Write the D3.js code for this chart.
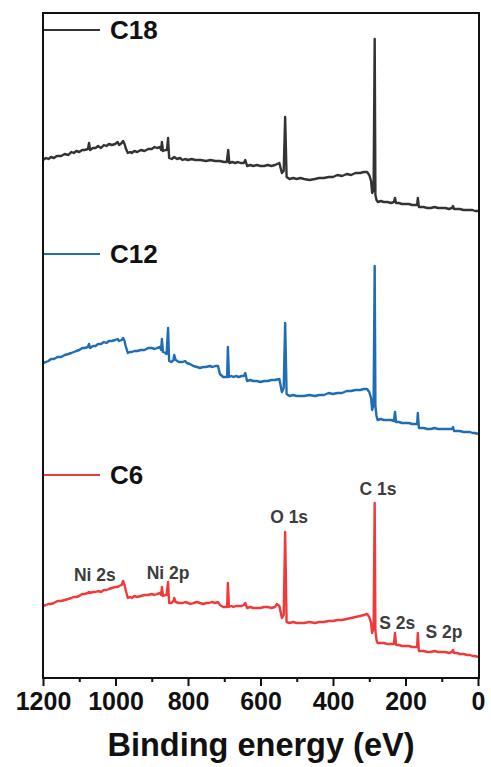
<!DOCTYPE html>
<html>
<head>
<meta charset="utf-8">
<script src="https://cdn.jsdelivr.net/npm/d3@7"></script>
<style>
  html, body { margin: 0; padding: 0; background: #fff; }
  svg { display: block; }
</style>
</head>
<body>
<script>
// XPS survey spectra of three samples, stacked vertically (intensity in a.u.)
const seriesNames = ["C18", "C12", "C6"];
const seriesColors = ["#333333", "#1f6db3", "#f03a3a"];

// binding energy (eV), intensity (a.u.)
const c18 = [
  [1200,518],[1192,520],[1185,519],[1178,521],[1170,520],[1162,522],[1150,522],[1140,524],[1130,523],[1122,526],
  [1115,525],[1108,527],[1100,526],[1092,528],[1085,528],[1076,529],[1073,535],[1070,528],[1062,530],[1055,530],
  [1048,532],[1040,530],[1032,533],[1025,532],[1018,534],[1010,533],[1001,534],[994,536],[990,533],[983,535],
  [979,537],[975,534],[972,530],[966,525],[960,526],[955,525],[948,527],[940,526],[930,528],[920,527],[910,529],
  [900,529],[892,531],[885,530],[877,531],[874,528],[872,536],[869,527],[862,528],[858,528],[855,540],[852,520],
  [845,519],[838,521],[830,519],[822,520],[815,518],[808,519],[800,518],[790,519],[780,518],[765,518],[750,517],
  [738,518],[725,517],[712,517],[700,516],[693,516],[689,528],[686,515],[678,516],[670,515],[662,516],[655,515],
  [646,515],[642,518],[637,512],[628,513],[620,512],[610,513],[600,512],[590,512],[580,513],[570,512],[560,513],
  [548,515],[541,505],[536,507],[532,561],[528,501],[520,499],[510,500],[500,499],[490,500],[480,499],[465,498],
  [450,499],[438,500],[425,500],[412,501],[400,501],[388,503],[375,502],[362,504],[350,503],[338,505],[325,505],
  [315,506],[306,506],[300,503],[295,497],[292,485],[288,488],[285,639],[283,483],[280,478],[276,476],[268,477],
  [260,476],[250,476],[240,475],[232,476],[229,480],[226,475],[218,475],[210,474],[200,474],[190,474],[182,473],
  [175,473],[168,473],[166,480],[163,471],[157,471],[150,471],[140,470],[130,470],[120,471],[110,470],[100,470],
  [90,470],[80,469],[72,470],[69,472],[66,469],[58,469],[50,469],[40,468],[30,468],[22,468],[15,468],[8,467],[0,467]
];
const c12 = [
  [1200,315],[1192,316],[1185,317],[1178,319],[1170,319],[1160,321],[1150,321],[1140,323],[1130,324],[1122,325],
  [1115,326],[1108,327],[1100,328],[1092,330],[1085,330],[1076,331],[1073,334],[1070,330],[1062,332],[1055,332],
  [1048,334],[1040,334],[1032,336],[1025,335],[1018,337],[1010,337],[1001,338],[994,339],[990,337],[983,338],
  [979,340],[975,337],[972,332],[966,325],[960,326],[955,326],[948,327],[940,327],[930,328],[920,328],[910,330],
  [900,330],[892,329],[885,330],[877,331],[874,328],[872,339],[869,326],[862,325],[859,324],[855,350],[852,317],
  [846,316],[840,318],[838,323],[834,318],[825,316],[815,316],[808,317],[803,315],[795,314],[785,312],[775,311],
  [767,310],[758,311],[750,311],[740,312],[732,311],[725,312],[717,312],[712,304],[703,301],[695,301],[692,301],
  [690,331],[687,301],[680,302],[675,301],[668,302],[660,301],[652,302],[646,302],[642,305],[637,297],[628,298],
  [620,297],[610,297],[600,296],[590,297],[580,297],[570,298],[560,298],[548,299],[541,286],[536,290],[532,355],
  [528,284],[520,282],[510,283],[500,282],[490,282],[480,282],[465,283],[450,282],[438,283],[425,283],[412,285],
  [400,284],[388,285],[375,285],[362,287],[350,287],[338,288],[325,288],[315,289],[306,289],[300,286],[295,280],
  [292,268],[288,273],[285,412],[283,272],[280,262],[277,258],[268,259],[260,258],[250,258],[240,258],[232,257],
  [229,266],[226,256],[218,256],[210,255],[200,255],[190,255],[182,254],[175,254],[168,254],[166,265],[163,250],
  [157,250],[150,250],[140,249],[130,249],[120,250],[110,249],[100,249],[90,249],[80,249],[72,249],[69,251],
  [66,247],[58,247],[50,247],[40,246],[30,246],[22,246],[15,245],[8,245],[0,244]
];
const c6 = [
  [1200,72],[1192,73],[1185,74],[1178,74],[1170,75],[1160,77],[1150,77],[1140,78],[1130,79],[1122,80],
  [1115,81],[1108,81],[1100,82],[1092,84],[1085,84],[1076,85],[1073,86],[1070,85],[1062,86],[1055,86],
  [1048,87],[1040,86],[1032,88],[1025,88],[1018,89],[1010,90],[1001,91],[994,91],[990,92],[983,93],
  [979,97],[975,93],[972,88],[966,80],[960,81],[955,80],[948,82],[940,81],[930,82],[920,83],[910,83],
  [900,84],[892,83],[885,84],[877,85],[874,83],[872,91],[869,82],[862,83],[859,83],[855,96],[852,75],
  [846,75],[840,77],[838,80],[834,76],[825,75],[815,75],[808,76],[800,75],[792,74],[785,75],[775,76],
  [767,75],[758,74],[750,75],[742,75],[735,76],[725,75],[717,76],[712,73],[703,71],[695,71],[692,71],
  [690,95],[687,71],[680,72],[675,71],[668,72],[660,72],[652,72],[646,73],[642,75],[637,70],[628,71],
  [620,70],[610,70],[600,70],[590,71],[580,71],[570,70],[560,71],[555,74],[548,72],[541,60],[536,63],
  [532,146],[528,56],[520,55],[510,56],[500,55],[490,55],[480,55],[465,56],[450,55],[438,56],[425,56],
  [412,57],[400,57],[388,58],[375,58],[362,59],[350,60],[338,61],[325,62],[315,63],[306,64],[300,61],
  [295,55],[292,45],[288,50],[285,175],[283,47],[280,38],[277,35],[268,35],[260,35],[250,34],[240,34],
  [232,34],[229,45],[226,33],[218,33],[210,32],[200,32],[190,32],[182,31],[175,31],[168,31],[166,45],
  [163,27],[157,27],[150,27],[140,26],[130,26],[120,27],[110,26],[100,26],[90,26],[80,25],[72,26],
  [69,28],[66,25],[58,25],[50,24],[40,24],[30,23],[22,23],[15,22],[8,22],[0,21]
];
const seriesData = [c18, c12, c6];

// legend entries sit at these intensity levels
const legendLevels = [648, 424, 203];

// peak assignments on the bottom spectrum: label, energy (eV), intensity (a.u.)
const peakNames = ["Ni 2s", "Ni 2p", "O 1s", "C 1s", "S 2s", "S 2p"];
const peakEnergies = [1057, 855, 521, 276, 223, 94];
const peakLevels = [97, 99, 155, 183, 49, 40];

const xTicks = [1200, 1000, 800, 600, 400, 200, 0];
const xMinorTicks = [1100, 900, 700, 500, 300, 100];

const W = 491, H = 767;
const margin = { left: 43, right: 12, top: 13, bottom: 89 };
const FONT = "Arial, 'Liberation Sans', Helvetica, sans-serif";

const svg = d3.select("body").append("svg")
  .attr("width", W).attr("height", H);

const x = d3.scaleLinear().domain([1200, 0]).range([margin.left, W - margin.right - 1]);
const y = d3.scaleLinear().domain([0, 665]).range([H - margin.bottom, margin.top]);

const line = d3.line().x(d => x(d[0])).y(d => y(d[1]));

// spectra
svg.append("g").selectAll("path")
  .data(seriesData)
  .join("path")
  .attr("d", line)
  .attr("fill", "none")
  .attr("stroke", (d, i) => seriesColors[i])
  .attr("stroke-width", 2.4)
  .attr("stroke-linejoin", "round");

// legend
const leg = svg.append("g").selectAll("g")
  .data(seriesNames)
  .join("g")
  .attr("transform", (d, i) => `translate(0,${y(legendLevels[i])})`);
leg.append("line")
  .attr("x1", margin.left).attr("x2", margin.left + 57)
  .attr("stroke", (d, i) => seriesColors[i])
  .attr("stroke-width", 2);
leg.append("text")
  .attr("x", margin.left + 67).attr("y", 9)
  .attr("font-family", FONT).attr("font-weight", "bold").attr("font-size", 26)
  .attr("fill", "#111")
  .text(d => d);

// peak labels
svg.append("g").selectAll("text")
  .data(peakNames)
  .join("text")
  .attr("x", (d, i) => x(peakEnergies[i]))
  .attr("y", (d, i) => y(peakLevels[i]))
  .attr("text-anchor", "middle")
  .attr("font-family", FONT).attr("font-weight", "bold").attr("font-size", 17.5)
  .attr("fill", "#3d3d3d")
  .text(d => d);

// frame
svg.append("rect")
  .attr("x", margin.left).attr("y", margin.top)
  .attr("width", W - margin.right - margin.left)
  .attr("height", H - margin.bottom - margin.top)
  .attr("fill", "none").attr("stroke", "#111").attr("stroke-width", 2);

// bottom axis: major ticks with labels, minor ticks between
const axisY = H - margin.bottom;
const major = svg.append("g").attr("transform", `translate(0,${axisY})`)
  .call(d3.axisBottom(x).tickValues(xTicks).tickSize(8).tickPadding(6).tickFormat(d3.format("d")));
major.select(".domain").remove();
major.selectAll(".tick line").attr("stroke", "#111").attr("stroke-width", 2);
major.selectAll(".tick text")
  .attr("font-family", FONT).attr("font-weight", "bold").attr("font-size", 25)
  .attr("fill", "#111");

const minor = svg.append("g").attr("transform", `translate(0,${axisY})`)
  .call(d3.axisBottom(x).tickValues(xMinorTicks).tickSize(4).tickFormat(""));
minor.select(".domain").remove();
minor.selectAll(".tick line").attr("stroke", "#111").attr("stroke-width", 2);

// axis title
svg.append("text")
  .attr("x", 261)
  .attr("y", 756)
  .attr("text-anchor", "middle")
  .attr("font-family", FONT).attr("font-weight", "bold").attr("font-size", 32.5)
  .attr("fill", "#111")
  .text("Binding energy (eV)");
</script>
</body>
</html>
